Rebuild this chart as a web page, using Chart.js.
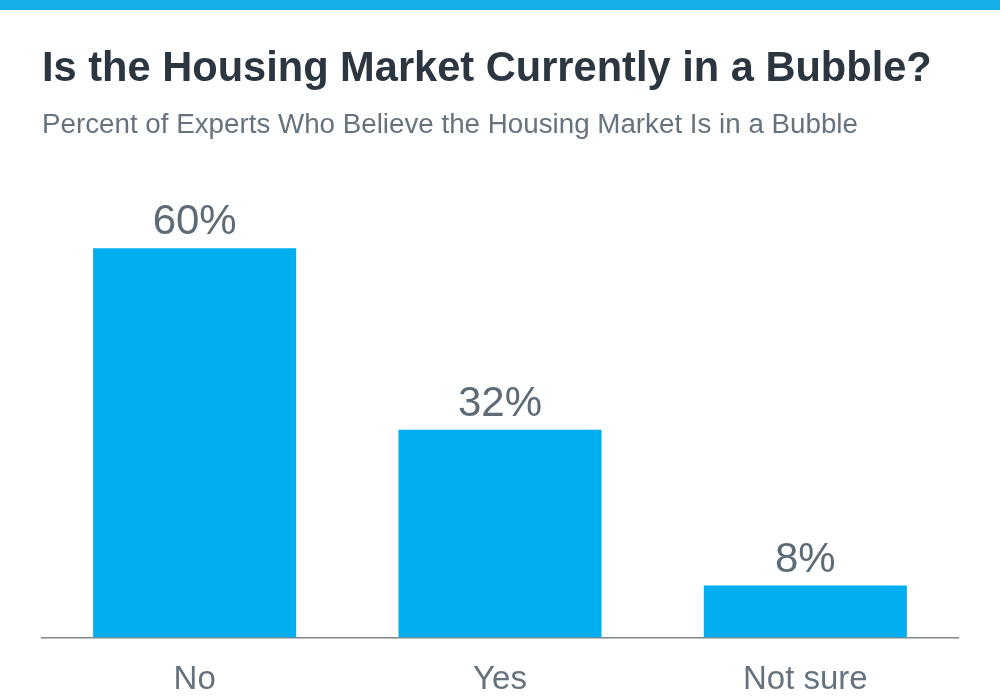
<!DOCTYPE html>
<html>
<head>
<meta charset="utf-8">
<script src="https://cdn.jsdelivr.net/npm/chart.js@4"></script>
<style>
  html, body { margin: 0; padding: 0; background: #ffffff; overflow: hidden; }
  #wrap { width: 1000px; height: 700px; position: relative; }
</style>
</head>
<body>
<div id="wrap"><canvas id="c" width="1000" height="700"></canvas></div>
<script>
const categories = ["No", "Yes", "Not sure"];
const values = [60, 32, 8];
const valueLabels = ["60%", "32%", "8%"];

const FONT = '"Liberation Sans", Arial, Helvetica, sans-serif';

const stripePlugin = {
  id: 'stripe',
  beforeDraw(chart) {
    const ctx = chart.ctx;
    ctx.save();
    ctx.fillStyle = '#ffffff';
    ctx.fillRect(0, 0, chart.width, chart.height);
    ctx.fillStyle = '#17ade8';
    ctx.fillRect(0, 0, chart.width, 10);
    ctx.restore();
  }
};

const valueLabelPlugin = {
  id: 'valueLabels',
  afterDatasetsDraw(chart) {
    const ctx = chart.ctx;
    const meta = chart.getDatasetMeta(0);
    ctx.save();
    ctx.font = '42px ' + FONT;
    ctx.fillStyle = '#5d6b77';
    ctx.textAlign = 'center';
    ctx.textBaseline = 'alphabetic';
    meta.data.forEach((bar, i) => {
      ctx.fillText(valueLabels[i], bar.x, bar.y - 14);
    });
    ctx.restore();
  }
};

new Chart(document.getElementById('c'), {
  type: 'bar',
  data: {
    labels: categories,
    datasets: [{
      data: values,
      backgroundColor: '#00adef',
      borderWidth: 0,
      barPercentage: 0.665,
      categoryPercentage: 1.0
    }]
  },
  options: {
    responsive: false,
    animation: false,
    layout: { padding: { left: 42, right: 42, top: 0, bottom: -23 } },
    plugins: {
      legend: { display: false },
      tooltip: { enabled: false },
      title: {
        display: true,
        text: 'Is the Housing Market Currently in a Bubble?',
        align: 'start',
        color: '#2b3640',
        font: { family: FONT, size: 41.6, weight: 'bold', lineHeight: 1.2 },
        padding: { top: 45, bottom: 13.4 }
      },
      subtitle: {
        display: true,
        text: 'Percent of Experts Who Believe the Housing Market Is in a Bubble',
        align: 'start',
        color: '#66737f',
        font: { family: FONT, size: 27.75, weight: 'normal', lineHeight: 1.2 },
        padding: { top: 0, bottom: 41.75 }
      }
    },
    scales: {
      x: {
        grid: { display: false, drawTicks: false },
        border: { display: true, color: '#7d8790', width: 1.5 },
        ticks: {
          color: '#66737f',
          font: { family: FONT, size: 33, lineHeight: 1.2 },
          padding: 23
        }
      },
      y: {
        display: false,
        min: 0,
        max: 70
      }
    }
  },
  plugins: [stripePlugin, valueLabelPlugin]
});
</script>
</body>
</html>
